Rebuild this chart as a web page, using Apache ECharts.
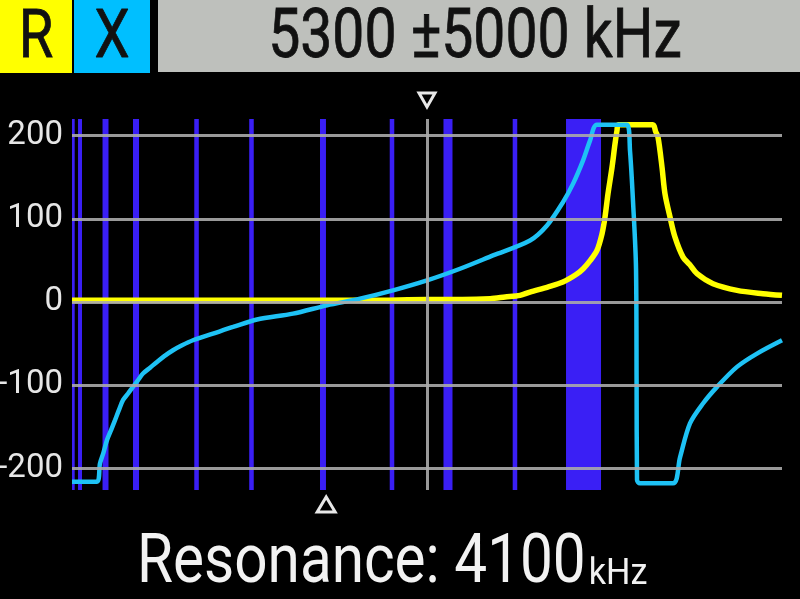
<!DOCTYPE html>
<html>
<head>
<meta charset="utf-8">
<script src="https://cdn.jsdelivr.net/npm/echarts@6/dist/echarts.min.js"></script>
<style>
html, body { margin: 0; background: #000; }
#chart { width: 800px; height: 599px; }
</style>
</head>
<body>
<div id="chart"></div>
<script>
// sweep: 5300 kHz +/- 5000 kHz
var freqMin = 300, freqMax = 10300;
var centerFreq = 5300;
var markerFreq = 3880;
var yTicks = [-200, -100, 0, 100, 200];

var headerR = 'R';
var headerX = 'X';
var headerRange = '5300 ±5000 kHz';
var resLabel = 'Resonance: 4100';
var resUnit = 'kHz';

// band markers, kHz
var bandStart = [300, 385, 730, 1159, 2022, 2796, 3793, 4775, 5532, 6507, 7258];
var bandEnd = [338, 441, 814, 1244, 2086, 2860, 3877, 4839, 5659, 6571, 7751];

// R (yellow)
var rFreq = [300, 800, 1500, 2500, 3500, 4500, 5300, 5800, 6190, 6400, 6610, 6750, 7000, 7215, 7400, 7500, 7600, 7694, 7765, 7807, 7849, 7906, 7948, 7976, 7995, 8480, 8520, 8554, 8610, 8652, 8723, 8793, 8906, 9000, 9103, 9328, 9666, 10032, 10300];
var rVal = [2, 2, 2, 2, 2, 2, 3, 3, 4, 6, 8, 12, 18, 24, 33, 40, 50, 62, 82, 102, 130, 162, 190, 206, 213, 213, 205, 198, 162, 130, 102, 78, 54, 45, 34, 22, 14, 10, 8];

// X (cyan)
var xFreq = [300, 652, 694, 740, 793, 850, 906, 960, 1018, 1090, 1159, 1230, 1300, 1400, 1497, 1600, 1723, 1850, 2004, 2286, 2568, 2906, 3413, 3892, 4356, 4821, 5300, 5765, 6230, 6751, 6990, 7215, 7356, 7497, 7596, 7694, 8117, 8159, 8201, 8244, 8252, 8258, 8300, 8765, 8863, 9004, 9187, 9385, 9666, 9948, 10300];
var xVal = [-216, -216, -194, -182, -166, -154, -142, -130, -118, -110, -102, -94, -86, -79, -72, -65, -58, -52, -46, -38, -30, -21, -14, -4, 4, 14, 26, 40, 56, 74, 92, 120, 142, 170, 194, 213, 213, 182, 122, 40, -100, -214, -218, -218, -187, -146, -122, -102, -78, -62, -46];

function pairs(xs, ys) {
    return xs.map(function (x, i) { return [x, ys[i]]; });
}

var chart = echarts.init(document.getElementById('chart'));

var option = {
    backgroundColor: '#000',
    animation: false,
    grid: {
        left: 72,
        right: 18,
        top: 119,
        bottom: 109,
        containLabel: false,
        outerBoundsMode: 'none'
    },
    xAxis: {
        type: 'value',
        min: freqMin,
        max: freqMax,
        axisLine: { show: false },
        axisTick: { show: false },
        axisLabel: { show: false },
        splitLine: { show: false }
    },
    yAxis: {
        type: 'value',
        min: -226,
        max: 220,
        axisLine: { show: false },
        axisTick: { show: false },
        splitLine: { show: false },
        axisLabel: {
            customValues: yTicks,
            color: '#e6e6e6',
            fontSize: 33,
            fontFamily: 'Roboto',
            margin: 9
        }
    },
    series: [
        {
            type: 'line',
            data: [],
            z: 1,
            silent: true,
            markArea: {
                silent: true,
                itemStyle: { color: '#3a1ff5' },
                data: bandStart.map(function (s, i) {
                    return [{ xAxis: s }, { xAxis: bandEnd[i] }];
                })
            }
        },
        {
            type: 'line',
            data: [],
            z: 2,
            silent: true,
            markLine: {
                silent: true,
                symbol: 'none',
                label: { show: false },
                lineStyle: { color: '#aaaaaa', width: 3, type: 'solid', opacity: 0.9 },
                data: yTicks.map(function (v) { return { yAxis: v }; })
                    .concat([{ xAxis: centerFreq }])
            }
        },
        {
            name: 'R',
            type: 'line',
            z: 3,
            data: pairs(rFreq, rVal),
            showSymbol: false,
            smooth: 0.3,
            lineStyle: { color: '#ffff00', width: 5.5 }
        },
        {
            name: 'X',
            type: 'line',
            z: 4,
            data: pairs(xFreq, xVal),
            showSymbol: false,
            smooth: 0.3,
            lineStyle: { color: '#1ec2f5', width: 4.5 }
        }
    ]
};

chart.setOption(option);

var topX = chart.convertToPixel({ xAxisIndex: 0 }, centerFreq);
var botX = chart.convertToPixel({ xAxisIndex: 0 }, markerFreq);

var ctx = document.createElement('canvas').getContext('2d');
ctx.font = '68px Roboto';
var resScale = 0.86;
var resWidth = ctx.measureText(resLabel).width * resScale;

chart.setOption({
    graphic: [
        { type: 'rect', shape: { x: 0, y: 0, width: 72, height: 73 }, style: { fill: '#ffff00' } },
        { type: 'rect', shape: { x: 74, y: 0, width: 76, height: 73 }, style: { fill: '#00bfff' } },
        { type: 'rect', shape: { x: 158, y: 0, width: 642, height: 72 }, style: { fill: '#bec0bc' } },
        {
            type: 'text', x: 36, y: 40, scaleX: 0.85,
            style: { text: headerR, fontSize: 66, fontFamily: 'Roboto', fill: '#111', align: 'center', verticalAlign: 'middle', stroke: '#111', lineWidth: 0.8 }
        },
        {
            type: 'text', x: 112, y: 40, scaleX: 0.85,
            style: { text: headerX, fontSize: 66, fontFamily: 'Roboto', fill: '#111', align: 'center', verticalAlign: 'middle', stroke: '#111', lineWidth: 0.8 }
        },
        {
            type: 'text', x: 475, y: 40, scaleX: 0.84,
            style: { text: headerRange, fontSize: 68, fontFamily: 'Roboto', fill: '#111', align: 'center', verticalAlign: 'middle', stroke: '#111', lineWidth: 0.8 }
        },
        {
            type: 'polygon', x: topX, y: 100,
            shape: { points: [[-8, -7], [8, -7], [0, 7]] },
            style: { fill: 'none', stroke: '#e8e8e8', lineWidth: 3 }
        },
        {
            type: 'polygon', x: botX, y: 505,
            shape: { points: [[-9, 7], [9, 7], [0, -8]] },
            style: { fill: 'none', stroke: '#e8e8e8', lineWidth: 3 }
        },
        {
            type: 'text', x: 137, y: 565, scaleX: resScale,
            style: { text: resLabel, fontSize: 68, fontFamily: 'Roboto', fill: '#f2f2f2', align: 'left', verticalAlign: 'middle' }
        },
        {
            type: 'text', x: 137 + resWidth + 3, y: 575, scaleX: 0.95,
            style: { text: resUnit, fontSize: 36, fontFamily: 'Roboto', fill: '#f2f2f2', align: 'left', verticalAlign: 'middle' }
        }
    ]
});
</script>
</body>
</html>
